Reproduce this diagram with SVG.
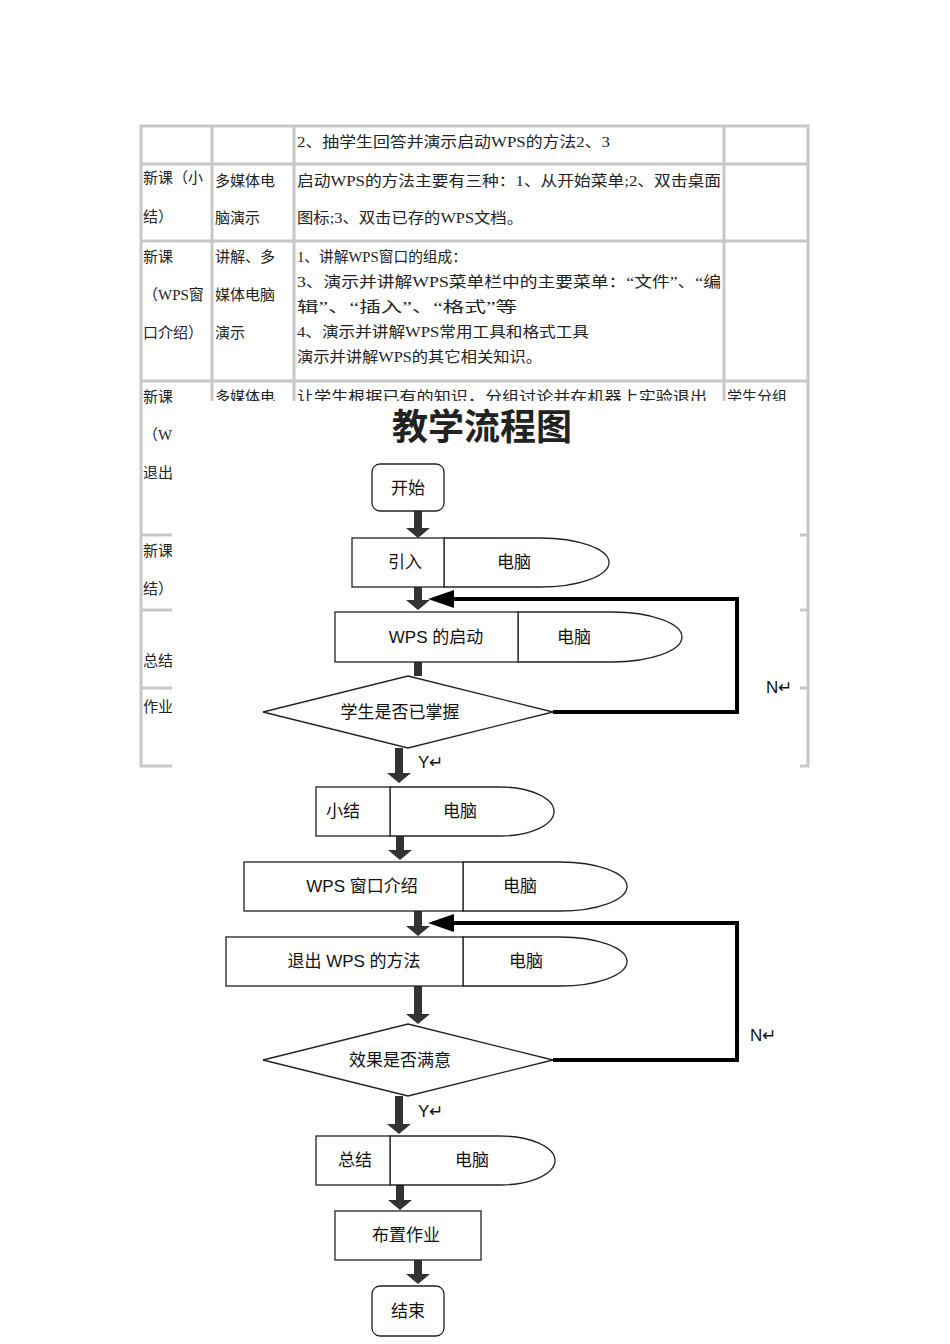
<svg xmlns="http://www.w3.org/2000/svg" width="950" height="1344" viewBox="0 0 950 1344">
<style>
.t{font-family:"Liberation Serif","Noto Sans CJK SC",serif;font-size:15px;fill:#222}
.f{font-family:"Liberation Sans","Noto Sans CJK SC",sans-serif;font-size:17px;fill:#111}
.g{fill:none;stroke:#c8c8c8;stroke-width:3}
.b{fill:#fff;stroke:#222;stroke-width:1.3}
.loop{fill:none;stroke:#000;stroke-width:4}
</style>
<rect width="950" height="1344" fill="#fff"/>
<g id="table">
<rect class="g" x="141" y="126" width="667" height="640"/>
<line class="g" x1="141" y1="164" x2="808" y2="164"/>
<line class="g" x1="141" y1="241" x2="808" y2="241"/>
<line class="g" x1="141" y1="381" x2="808" y2="381"/>
<line class="g" x1="141" y1="535" x2="808" y2="535"/>
<line class="g" x1="141" y1="610" x2="808" y2="610"/>
<line class="g" x1="141" y1="688" x2="808" y2="688"/>
<line class="g" x1="212" y1="126" x2="212" y2="766"/>
<line class="g" x1="294" y1="126" x2="294" y2="766"/>
<line class="g" x1="724" y1="126" x2="724" y2="766"/>
<text class="t" x="297" y="147" textLength="313" lengthAdjust="spacingAndGlyphs">2、抽学生回答并演示启动WPS的方法2、3</text>
<text class="t" x="143" y="183">新课（小</text><text class="t" x="143" y="222">结）</text>
<text class="t" x="215" y="186">多媒体电</text><text class="t" x="215" y="223">脑演示</text>
<text class="t" x="297" y="186" textLength="424" lengthAdjust="spacingAndGlyphs">启动WPS的方法主要有三种：1、从开始菜单;2、双击桌面</text>
<text class="t" x="297" y="223" textLength="226" lengthAdjust="spacingAndGlyphs">图标;3、双击已存的WPS文档。</text>
<text class="t" x="143" y="262">新课</text><text class="t" x="143" y="300">（WPS窗</text><text class="t" x="143" y="338">口介绍）</text>
<text class="t" x="215" y="262">讲解、多</text><text class="t" x="215" y="300">媒体电脑</text><text class="t" x="215" y="338">演示</text>
<text class="t" x="297" y="262" textLength="170" lengthAdjust="spacingAndGlyphs">1、讲解WPS窗口的组成：</text>
<text class="t" x="297" y="287" textLength="424" lengthAdjust="spacingAndGlyphs">3、演示并讲解WPS菜单栏中的主要菜单：“文件”、“编</text>
<text class="t" x="297" y="312" textLength="220" lengthAdjust="spacingAndGlyphs">辑”、“插入”、“格式”等</text>
<text class="t" x="297" y="337" textLength="292" lengthAdjust="spacingAndGlyphs">4、演示并讲解WPS常用工具和格式工具</text>
<text class="t" x="297" y="362" textLength="245" lengthAdjust="spacingAndGlyphs">演示并讲解WPS的其它相关知识。</text>
<text class="t" x="143" y="402">新课</text><text class="t" x="215" y="402">多媒体电</text><text class="t" x="297" y="402" textLength="410" lengthAdjust="spacingAndGlyphs">让学生根据已有的知识，分组讨论并在机器上实验退出</text><text class="t" x="727" y="402">学生分组</text>
<text class="t" x="143" y="440">（WI</text><text class="t" x="143" y="478">退出</text>
<text class="t" x="143" y="556">新课</text><text class="t" x="143" y="594">结）</text>
<text class="t" x="143" y="666">总结</text><text class="t" x="143" y="712">作业</text>
</g>
<rect x="172" y="401" width="628" height="943" fill="#fff"/>
<text x="482" y="440" text-anchor="middle" font-family="Noto Sans CJK SC,sans-serif" font-size="36" font-weight="bold" fill="#222">教学流程图</text>
<g id="connectors" fill="#333">
<path d="M414,511h8v17h8l-12,10l-12,-10h8z"/>
<path d="M414,587h8v13h8l-12,10l-12,-10h8z"/>
<rect x="414" y="662" width="8" height="14"/>
<path d="M395,748h8v25h8l-12,10l-12,-10h8z"/>
<path d="M396,836h8v14h8l-12,10l-12,-10h8z"/>
<path d="M414,911h8v15h8l-12,10l-12,-10h8z"/>
<path d="M414,986h8v28h8l-12,10l-12,-10h8z"/>
<path d="M395,1096h8v28h8l-12,10l-12,-10h8z"/>
<path d="M396,1185h8v15h8l-12,10l-12,-10h8z"/>
<path d="M414,1260h8v14h8l-12,10l-12,-10h8z"/>
<path class="loop" d="M553,712H737V599H445"/>
<path d="M428,599l26,-9v18z" fill="#000"/>
<path class="loop" d="M553,1060H737V923H445"/>
<path d="M428,923l26,-9v18z" fill="#000"/>
<text class="f" x="766" y="693" font-size="13">N↵</text>
<text class="f" x="750" y="1041" font-size="13">N↵</text>
<text class="f" x="418" y="768" font-size="13">Y↵</text>
<text class="f" x="418" y="1117" font-size="13">Y↵</text>
</g>
<g id="start"><rect class="b" x="372" y="464" width="72" height="47" rx="8"/><text class="f" x="408" y="494" text-anchor="middle">开始</text></g>
<g id="intro"><path class="b" d="M444,538H540A69,24.5 0 0 1 540,587H444z"/><rect class="b" x="352" y="538" width="92" height="49"/><text class="f" x="405" y="568" text-anchor="middle">引入</text><text class="f" x="514" y="568" text-anchor="middle">电脑</text></g>
<g id="wpsstart"><path class="b" d="M518,612H612A70,25 0 0 1 612,662H518z"/><rect class="b" x="335" y="612" width="183" height="50"/><text class="f" x="436" y="643" text-anchor="middle">WPS 的启动</text><text class="f" x="574" y="643" text-anchor="middle">电脑</text></g>
<g id="d1"><path class="b" d="M408,676L553,712L408,748L263,712z"/><text class="f" x="400" y="718" text-anchor="middle">学生是否已掌握</text></g>
<g id="summary1"><path class="b" d="M390,787H500A54,24.5 0 0 1 500,836H390z"/><rect class="b" x="316" y="787" width="74" height="49"/><text class="f" x="343" y="817" text-anchor="middle">小结</text><text class="f" x="460" y="817" text-anchor="middle">电脑</text></g>
<g id="window"><path class="b" d="M463,862H560A67,24.5 0 0 1 560,911H463z"/><rect class="b" x="244" y="862" width="219" height="49"/><text class="f" x="362" y="892" text-anchor="middle">WPS 窗口介绍</text><text class="f" x="520" y="892" text-anchor="middle">电脑</text></g>
<g id="exit"><path class="b" d="M463,937H560A67,24.5 0 0 1 560,986H463z"/><rect class="b" x="226" y="937" width="237" height="49"/><text class="f" x="354" y="967" text-anchor="middle">退出 WPS 的方法</text><text class="f" x="526" y="967" text-anchor="middle">电脑</text></g>
<g id="d2"><path class="b" d="M408,1024L553,1060L408,1096L263,1060z"/><text class="f" x="400" y="1066" text-anchor="middle">效果是否满意</text></g>
<g id="summary2"><path class="b" d="M390,1136H500A55,24.5 0 0 1 500,1185H390z"/><rect class="b" x="316" y="1136" width="74" height="49"/><text class="f" x="355" y="1166" text-anchor="middle">总结</text><text class="f" x="472" y="1166" text-anchor="middle">电脑</text></g>
<g id="homework"><rect class="b" x="335" y="1211" width="146" height="49"/><text class="f" x="406" y="1241" text-anchor="middle">布置作业</text></g>
<g id="end"><rect class="b" x="372" y="1286" width="72" height="50" rx="8"/><text class="f" x="408" y="1317" text-anchor="middle">结束</text></g>
</svg>
